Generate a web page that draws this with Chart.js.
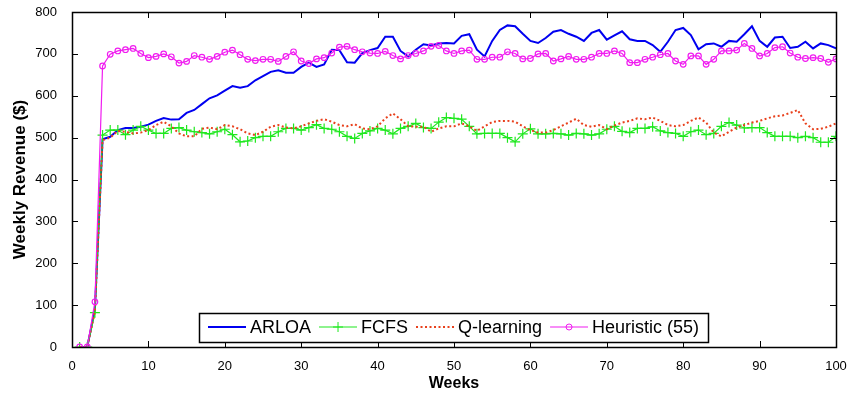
<!DOCTYPE html>
<html>
<head>
<meta charset="utf-8">
<script src="https://cdn.jsdelivr.net/npm/chart.js@4/dist/chart.umd.min.js"></script>
<style>
  html, body { margin: 0; padding: 0; background: #fff; }
  #wrap { width: 848px; height: 395px; }
</style>
</head>
<body>
<div id="wrap"><canvas id="revChart" width="848" height="395"></canvas></div>
<script>
const weeks = [];
for (let w = 1; w <= 100; w++) weeks.push(w);

const arloa = [0, 0, 90, 496, 502, 518, 523, 523, 526, 531, 540, 547, 543, 544, 559, 566, 580, 594, 601, 612,
  623, 619, 623, 637, 647, 657, 661, 655, 655, 669, 679, 669, 675, 710, 709, 680, 679, 702, 709, 714,
  741, 741, 707, 694, 710, 723, 720, 725, 726, 725, 743, 747, 710, 694, 731, 757, 768, 766, 748, 731,
  726, 738, 753, 757, 748, 741, 731, 750, 757, 734, 744, 754, 735, 731, 731, 721, 705, 729, 757, 762,
  745, 711, 723, 725, 717, 731, 729, 747, 766, 731, 717, 739, 741, 714, 717, 729, 713, 725, 721, 713];

const fcfs = [0, 0, 82, 506, 518, 518, 507, 518, 527, 518, 510, 510, 522, 524, 518, 514, 512, 509, 514, 520,
  507, 490, 492, 500, 503, 503, 514, 522, 522, 518, 524, 531, 522, 520, 514, 503, 498, 510, 516, 522,
  518, 509, 522, 527, 534, 524, 522, 537, 548, 546, 544, 527, 509, 510, 510, 510, 500, 490, 509, 521,
  509, 509, 510, 509, 506, 510, 509, 506, 509, 520, 527, 515, 512, 522, 522, 526, 516, 512, 510, 503,
  514, 518, 507, 510, 527, 536, 530, 523, 524, 524, 512, 503, 503, 503, 500, 503, 500, 489, 489, 503];

const qlearn = [0, 0, 86, 494, 500, 516, 514, 510, 512, 518, 530, 538, 527, 510, 503, 503, 521, 524, 520, 530,
  527, 520, 510, 506, 514, 526, 530, 524, 522, 527, 534, 540, 544, 538, 530, 527, 532, 522, 520, 527,
  546, 558, 544, 527, 526, 526, 514, 522, 527, 527, 534, 527, 516, 527, 537, 540, 540, 538, 527, 518,
  512, 512, 518, 527, 536, 545, 530, 526, 530, 520, 529, 536, 540, 546, 544, 548, 540, 530, 527, 530,
  540, 548, 536, 512, 503, 514, 524, 530, 536, 540, 546, 551, 553, 559, 566, 534, 520, 521, 526, 534];

const heuristic = [0, 0, 108, 671, 699, 707, 710, 713, 701, 691, 694, 700, 693, 678, 682, 696, 692, 687, 694, 704,
  709, 698, 687, 684, 687, 687, 682, 694, 705, 683, 677, 688, 691, 702, 716, 718, 710, 705, 702, 701,
  706, 696, 688, 696, 701, 707, 718, 720, 707, 701, 707, 709, 687, 687, 692, 692, 705, 701, 688, 689,
  700, 701, 683, 688, 694, 687, 687, 692, 701, 701, 707, 701, 679, 679, 687, 692, 698, 701, 683, 675,
  695, 695, 675, 687, 707, 707, 709, 725, 713, 695, 701, 715, 717, 702, 692, 689, 691, 689, 680, 688];

const seriesNames = ["ARLOA", "FCFS", "Q-learning", "Heuristic (55)"];
const xTicks = [0, 10, 20, 30, 40, 50, 60, 70, 80, 90, 100];
const yTicks = [0, 100, 200, 300, 400, 500, 600, 700, 800];

const FONT = '"Liberation Sans", Arial, sans-serif';

function toPoints(arr) {
  return weeks.map((w, i) => ({ x: w, y: arr[i] }));
}

// frame + inward ticks, MATLAB style
const framePlugin = {
  id: 'frame',
  afterDraw(chart) {
    const { ctx, chartArea: a } = chart;
    const xs = chart.scales.x, ys = chart.scales.y;
    const len = 6;
    ctx.save();
    ctx.strokeStyle = '#000';
    ctx.lineWidth = 1;
    ctx.beginPath();
    xTicks.forEach(v => {
      const px = Math.round(xs.getPixelForValue(v)) + 0.5;
      ctx.moveTo(px, a.bottom); ctx.lineTo(px, a.bottom - len);
      ctx.moveTo(px, a.top); ctx.lineTo(px, a.top + len);
    });
    yTicks.forEach(v => {
      const py = Math.round(ys.getPixelForValue(v)) + 0.5;
      ctx.moveTo(a.left, py); ctx.lineTo(a.left + len, py);
      ctx.moveTo(a.right, py); ctx.lineTo(a.right - len, py);
    });
    ctx.stroke();
    ctx.lineWidth = 1.5;
    ctx.strokeRect(Math.round(a.left) + 0.5, Math.round(a.top) + 0.5,
      Math.round(a.right - a.left), Math.round(a.bottom - a.top));
    ctx.restore();
  }
};

// boxed legend inside the plot, bottom centre
const legendPlugin = {
  id: 'boxLegend',
  afterDraw(chart) {
    const ctx = chart.ctx;
    const sets = chart.data.datasets;
    const sample = 38, gapText = 4, gapItem = 8, padX = 9;
    ctx.save();
    ctx.font = '18px ' + FONT;
    let total = padX * 2;
    const widths = sets.map(d => ctx.measureText(d.label).width);
    widths.forEach((w, i) => { total += sample + gapText + w + (i < sets.length - 1 ? gapItem : 0); });
    const cx = 454, cy = 327, h = 29;
    const left = Math.round(cx - total / 2);
    const top = Math.round(cy - h / 2);
    ctx.fillStyle = '#fff';
    ctx.fillRect(left, top, total, h);
    ctx.strokeStyle = '#000';
    ctx.lineWidth = 1.5;
    ctx.strokeRect(left + 0.5, top + 0.5, Math.round(total), h);
    let x = left + padX;
    sets.forEach((d, i) => {
      ctx.save();
      ctx.strokeStyle = d.borderColor;
      ctx.lineWidth = d.borderWidth;
      ctx.setLineDash(d.borderDash || []);
      ctx.beginPath();
      ctx.moveTo(x, cy); ctx.lineTo(x + sample, cy);
      ctx.stroke();
      ctx.setLineDash([]);
      const mx = x + sample / 2;
      if (d.pointStyle === 'cross' && d.pointRadius > 0) {
        ctx.lineWidth = 1;
        ctx.beginPath();
        ctx.moveTo(mx - 5, cy); ctx.lineTo(mx + 5, cy);
        ctx.moveTo(mx, cy - 5); ctx.lineTo(mx, cy + 5);
        ctx.stroke();
      } else if (d.pointStyle === 'circle' && d.pointRadius > 0) {
        ctx.lineWidth = 1;
        ctx.beginPath();
        ctx.arc(mx, cy, 3, 0, Math.PI * 2);
        ctx.stroke();
      }
      ctx.restore();
      x += sample + gapText;
      ctx.fillStyle = '#000';
      ctx.textBaseline = 'middle';
      ctx.fillText(d.label, x, cy + 1);
      x += widths[i] + gapItem;
    });
    ctx.restore();
  }
};

new Chart(document.getElementById('revChart'), {
  type: 'line',
  data: {
    datasets: [
      {
        label: seriesNames[0], data: toPoints(arloa), order: 4,
        borderColor: '#0000f0', borderWidth: 2, pointRadius: 0, tension: 0
      },
      {
        label: seriesNames[1], data: toPoints(fcfs), order: 3,
        borderColor: '#1ee81e', borderWidth: 1.2, pointStyle: 'cross', pointRadius: 5,
        pointBorderColor: '#1ee81e', pointBorderWidth: 1.2, tension: 0
      },
      {
        label: seriesNames[2], data: toPoints(qlearn), order: 2,
        borderColor: '#e8401c', borderWidth: 2, borderDash: [2, 2.5], pointRadius: 0, tension: 0
      },
      {
        label: seriesNames[3], data: toPoints(heuristic), order: 1,
        borderColor: '#f01cf0', borderWidth: 1.2, pointStyle: 'circle', pointRadius: 2.8,
        pointBorderColor: '#f01cf0', pointBackgroundColor: 'rgba(255,255,255,0)', pointBorderWidth: 1.2, tension: 0
      }
    ]
  },
  options: {
    responsive: false,
    animation: false,
    layout: { padding: { top: 12, right: 12, left: 0, bottom: 0 } },
    plugins: { legend: { display: false }, tooltip: { enabled: false } },
    scales: {
      x: {
        type: 'linear', min: 0, max: 100,
        grid: { display: false },
        border: { display: false },
        afterFit(scale) { scale.height = 48; scale.paddingLeft = 0; scale.paddingRight = 0; },
        afterBuildTicks(scale) { scale.ticks = xTicks.map(v => ({ value: v })); },
        ticks: { padding: 4, color: '#000', font: { family: FONT, size: 13 }, maxRotation: 0 },
        title: { display: true, text: 'Weeks', color: '#000', padding: { top: 0, bottom: 2 },
          font: { family: FONT, size: 16, weight: 'bold' } }
      },
      y: {
        min: 0, max: 800,
        grid: { display: false },
        border: { display: false },
        afterFit(scale) { scale.width = 72; scale.paddingTop = 0; scale.paddingBottom = 0; },
        afterBuildTicks(scale) { scale.ticks = yTicks.map(v => ({ value: v })); },
        ticks: { padding: 7, color: '#000', font: { family: FONT, size: 13 } },
        title: { display: true, text: 'Weekly Revenue ($)', color: '#000', padding: { top: 10, bottom: 0 },
          font: { family: FONT, size: 17, weight: 'bold' } }
      }
    }
  },
  plugins: [framePlugin, legendPlugin]
});
</script>
</body>
</html>
